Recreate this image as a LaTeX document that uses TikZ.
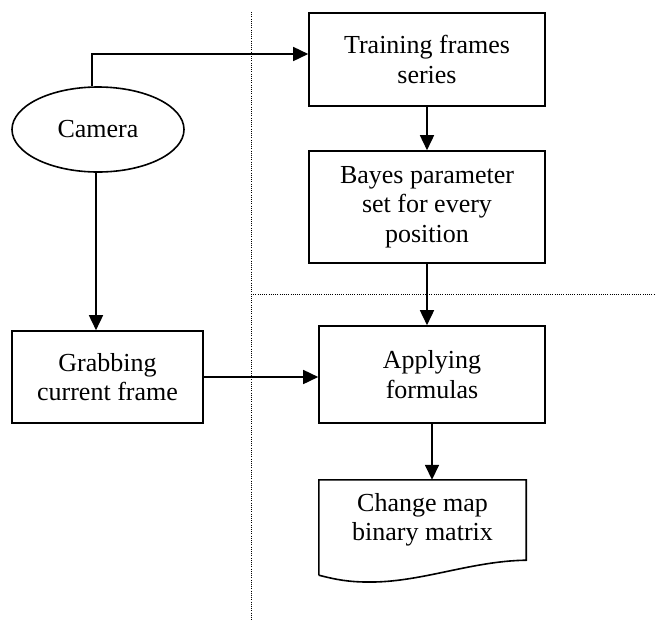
\documentclass[tikz,border=0pt]{standalone}
\usepackage{fontspec}
\setmainfont{Liberation Serif}
\usetikzlibrary{positioning,arrows.meta,shapes.geometric,calc}

\begin{document}
\begin{tikzpicture}[
  x=1pt,y=-1pt,
  font=\fontsize{26}{29.5}\selectfont,
  >={Triangle[length=15pt,width=14pt]},
  box/.style={draw,line width=1.6pt,align=center,inner sep=0pt},
  cam/.style={draw,ellipse,line width=1.6pt,inner sep=0pt,
              minimum width=172pt,minimum height=85pt},
  doc/.style={align=center,inner sep=0pt,minimum width=207pt,minimum height=80pt},
  flow/.style={->,line width=1.6pt},
  sep/.style={line width=0.8pt,dash pattern=on 1pt off 1.2pt},
]
\useasboundingbox (0,0) rectangle (656,622);
% ---------- nodes ----------
\node[cam] (camera) at (98,129.5) {Camera};
\node[box,minimum width=236pt,minimum height=93pt] (train) at (427,59.5) {Training frames\\series};
\node[box,minimum width=236pt,minimum height=112pt] (bayes) at (427,207) {Bayes parameter\\set for every\\position};
\node[box,minimum width=226pt,minimum height=97pt] (apply) at (432,374.5) {Applying\\formulas};
\node[box,minimum width=191pt,minimum height=92pt] (grab) at (107.5,377) {Grabbing\\current frame};
\node[doc] (chmap) at (422.5,520) {Change map\\binary matrix};
% document outline with wavy bottom
\draw[line width=1.6pt] ($(chmap.south west)+(0,15)$) -- (chmap.north west) -- (chmap.north east)
  -- (chmap.south east) .. controls (470,561) and (420,583) .. (367,582)
  .. controls (345,582) and (330,578) .. ($(chmap.south west)+(0,15)$);
% ---------- separators ----------
\draw[sep] (251,12) -- (251,620);
\draw[sep] (251,294) -- (656,294);
% ---------- edges ----------
\draw[flow] ([xshift=-6pt]camera.north) |- ([yshift=5.5pt]train.west);
\draw[flow] ([xshift=-2pt]camera.south) -- ([xshift=-2pt]camera.south |- grab.north);
\draw[flow] (train) -- (bayes);
\draw[flow] (bayes.south) -- (bayes.south |- apply.north);
\draw[flow] (grab.east) -- (grab.east -| apply.west);
\draw[flow] (apply.south) -- (apply.south |- chmap.north);
\end{tikzpicture}
\end{document}
